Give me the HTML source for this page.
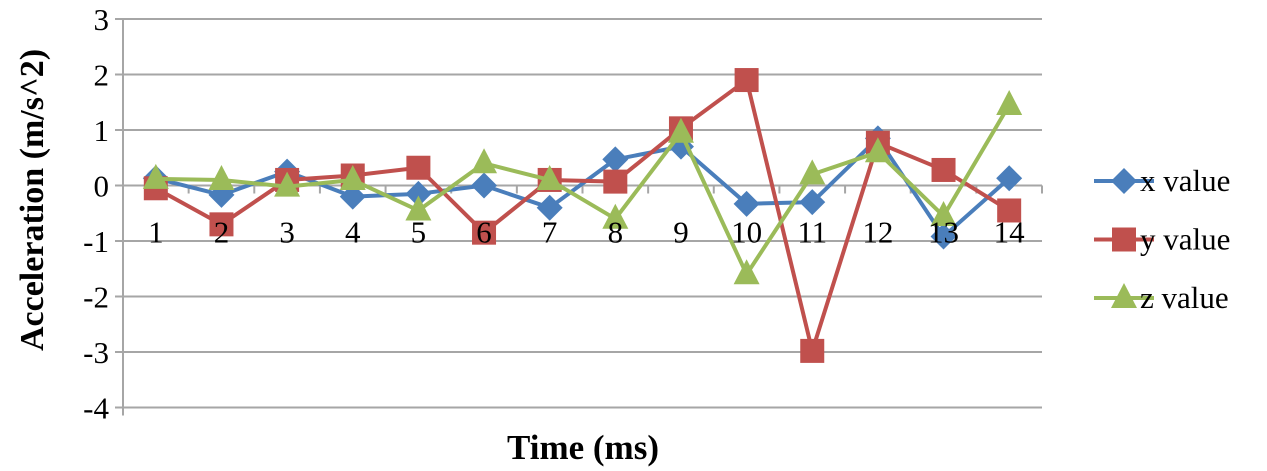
<!DOCTYPE html>
<html><head><meta charset="utf-8"><style>
html,body{margin:0;padding:0;background:#fff;}
svg{display:block;font-family:"Liberation Serif",serif;}
</style></head><body>
<svg id="chart" width="1267" height="471" viewBox="0 0 1267 471" xmlns="http://www.w3.org/2000/svg">
<g id="grid"></g>
<g id="yticks"></g>
<g id="xaxis"></g>
<g id="series"></g>
<g id="xlabels"></g>
<text x="583" y="459" font-size="35" font-weight="bold" text-anchor="middle">Time (ms)</text>
<text transform="translate(43,200) rotate(-90)" font-size="34" font-weight="bold" text-anchor="middle">Acceleration (m/s^2)</text>
<g id="legend"></g>
</svg>
<script>
const categories=[1,2,3,4,5,6,7,8,9,10,11,12,13,14];
const xValues=[0.13,-0.17,0.25,-0.2,-0.15,0,-0.4,0.47,0.7,-0.33,-0.3,0.85,-0.92,0.13];
const yValues=[-0.05,-0.7,0.1,0.18,0.32,-0.85,0.1,0.07,1.03,1.9,-2.98,0.77,0.28,-0.45];
const zValues=[0.12,0.1,-0.02,0.1,-0.45,0.4,0.1,-0.6,0.95,-1.6,0.2,0.6,-0.55,1.45];
const yTicks=[3,2,1,0,-1,-2,-3,-4];
const seriesNames=["x value","y value","z value"];
const NS="http://www.w3.org/2000/svg";
const L=123,R=1042,T=19,B=407.5,yMax=3,yMin=-4;
const band=(R-L)/categories.length;
function xs(i){return L+band*(i+0.5);}
function ys(v){return T+(yMax-v)/(yMax-yMin)*(B-T);}
function mk(t,a,p){const e=document.createElementNS(NS,t);for(const k in a)e.setAttribute(k,a[k]);p.appendChild(e);return e;}
const grid=document.getElementById('grid'),yt=document.getElementById('yticks'),xa=document.getElementById('xaxis'),xl=document.getElementById('xlabels');
yTicks.forEach(v=>{
  const g=mk('line',{x1:L-8,x2:R,y1:ys(v),y2:ys(v),stroke:'#a6a6a6','stroke-width':2},grid);
  
  
  const t=mk('text',{x:109,y:ys(v)+11,'font-size':31,'text-anchor':'end'},yt);
  t.textContent=v;
  
  
});
const va=mk('line',{x1:L,x2:L,y1:T,y2:B+8,stroke:'#a6a6a6','stroke-width':2},xa);


for(let i=0;i<=categories.length;i++){
  const tk=mk('line',{x1:L+band*i,x2:L+band*i,y1:ys(0),y2:ys(0)+8,stroke:'#a6a6a6','stroke-width':2},xa);
  
  
}
const colors=['#4a7ebb','#c0504d','#9bbb59'];
const shapes=['diamond','square','triangle'];
function marker(shape,cx,cy,col,p){
  let e;
  if(shape==='diamond')e=mk('polygon',{points:`${cx},${cy-13} ${cx+13},${cy} ${cx},${cy+13} ${cx-13},${cy}`,fill:col},p);
  else if(shape==='square')e=mk('rect',{x:cx-12,y:cy-12,width:24,height:24,fill:col},p);
  else e=mk('polygon',{points:`${cx},${cy-15} ${cx+13},${cy+10} ${cx-13},${cy+10}`,fill:col},p);
  return e;
}
const ser=document.getElementById('series');
[xValues,yValues,zValues].forEach((vals,s)=>{
  const g=mk('g',{},ser);
  
  
  const pl=mk('polyline',{points:vals.map((v,i)=>xs(i)+','+ys(v)).join(' '),fill:'none',stroke:colors[s],'stroke-width':4,'stroke-linejoin':'round'},g);
  
  
  vals.forEach((v,i)=>{
    const m=marker(shapes[s],xs(i),ys(v),colors[s],g);
    
    
  });
});
categories.forEach((c,i)=>{
  const t=mk('text',{x:xs(i),y:ys(0)+57,'font-size':31,'text-anchor':'middle'},xl);
  t.textContent=c;
  
  
});
const lg=document.getElementById('legend');
seriesNames.forEach((n,s)=>{
  const y=181+s*58.5;
  const g=mk('g',{},lg);
  
  
  mk('line',{x1:1094,x2:1154,y1:y,y2:y,stroke:colors[s],'stroke-width':4},g);
  marker(shapes[s],1124,y,colors[s],g);
  const t=mk('text',{x:1140,y:y+10,'font-size':31},g);
  t.textContent=n;
});
</script>
</body></html>
